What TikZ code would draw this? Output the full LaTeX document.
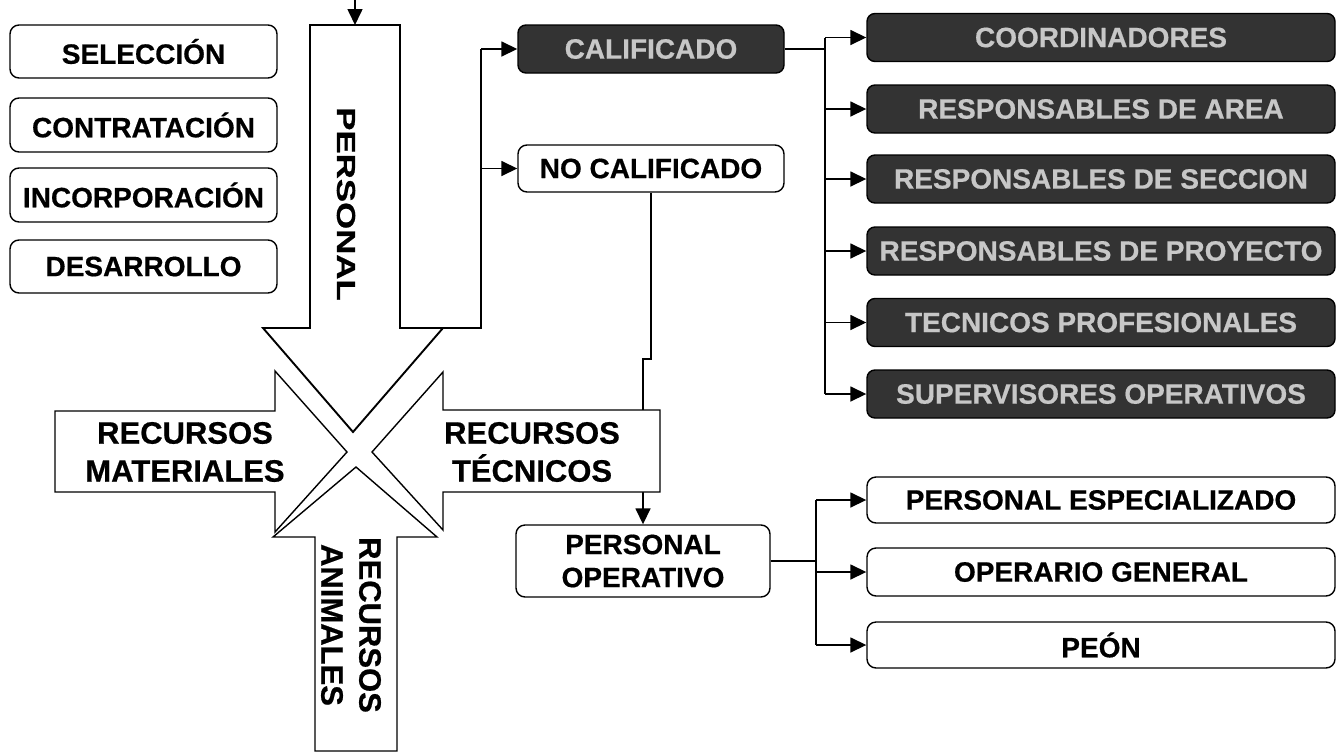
\documentclass[tikz,border=0pt]{standalone}
\usepackage{fontspec}
\setmainfont{Liberation Sans}[BoldFeatures={FakeBold=0.6}]
\usetikzlibrary{arrows.meta}
\newcommand\fsz[2]{\fontsize{#1}{#2}\selectfont\bfseries}
\begin{document}
\begin{tikzpicture}[x=1pt,y=-1pt,
  lbox/.style={draw, line width=1.4pt, rounded corners=9pt, fill=white, inner sep=0pt, font=\fsz{28}{30}, align=center},
  dbox/.style={draw=black, line width=1.4pt, rounded corners=8pt, fill=black!80, text=black!22, inner sep=0pt, font=\fsz{28}{30}, minimum width=468pt, minimum height=48pt},
  rbox/.style={lbox, minimum width=468pt},
  bigarrow/.style={draw, line width=1.4pt, fill=white, line join=miter},
  conn/.style={line width=1.6pt},
  arr/.style={conn, -{Triangle[length=16pt,width=15pt]}},
  bigtext/.style={inner sep=0pt, font=\fsz{31}{38}, align=center}]
\useasboundingbox (0,0) rectangle (1336,753);
\fill[white] (0,0) rectangle (1336,753);

% left column
\node[lbox, minimum width=267pt, minimum height=53pt] (sel) at (143.5,51.5) {SELECCIÓN};
\node[lbox, minimum width=267pt, minimum height=54pt] (con) at (143.5,125) {CONTRATACIÓN};
\node[lbox, minimum width=267pt, minimum height=54pt] (inc) at (143.5,195) {INCORPORACIÓN};
\node[lbox, minimum width=267pt, minimum height=53pt] (des) at (143.5,266.5) {DESARROLLO};

% middle
\node[dbox, minimum width=266pt] (cal) at (651,49) {CALIFICADO};
\node[lbox, minimum width=266pt, minimum height=47pt] (nocal) at (651,168.5) {NO CALIFICADO};
\node[lbox, minimum width=254pt, minimum height=72pt, font=\fsz{28}{33}] (pop) at (643,561) {PERSONAL\\OPERATIVO};

% right dark column
\node[dbox] (coord) at (1101,37.5) {COORDINADORES};
\node[dbox] (area) at (1101,109) {RESPONSABLES DE AREA};
\node[dbox] (secc) at (1101,179) {RESPONSABLES DE SECCION};
\node[dbox] (proy) at (1101,251) {RESPONSABLES DE PROYECTO};
\node[dbox] (tecp) at (1101,322.5) {TECNICOS PROFESIONALES};
\node[dbox] (sup) at (1101,394) {SUPERVISORES OPERATIVOS};

% right bottom column
\node[rbox, minimum height=46pt] (pe) at (1101,500) {PERSONAL ESPECIALIZADO};
\node[rbox, minimum height=48pt] (og) at (1101,572) {OPERARIO GENERAL};
\node[rbox, minimum height=46pt] (peon) at (1101,645) {PEÓN};

% connectors
\coordinate (src) at (355,0);
\coordinate (ptop) at (355,25);
\coordinate (pbase) at (443,328);
\coordinate (pj) at (481,328);
\draw[conn] (pbase) -- (pj) -- (pj |- cal.west);
\draw[arr] (pj |- cal.west) -- (cal.west);
\draw[arr] (pj |- nocal.west) -- (nocal.west);

\coordinate (cj) at (825,49);
\draw[conn] (cal.east) -- (cj);
\draw[conn] (cj |- coord.west) -- (cj |- sup.west);
\foreach \n in {coord,area,secc,proy,tecp,sup}
  \draw[arr] (cj |- \n.west) -- (\n.west);

\draw[arr] (nocal.south) -- ++(0,166) -| (pop.north);

\coordinate (oj) at (816,561);
\draw[conn] (pop.east) -- (oj);
\draw[conn] (oj |- pe.west) -- (oj |- peon.west);
\foreach \n in {pe,og,peon}
  \draw[arr] (oj |- \n.west) -- (\n.west);

% big arrows
\draw[bigarrow, line width=1.9pt] (310,25) -- (400,25) -- (400,328) -- (443,328) -- (353,432) -- (263,328) -- (310,328) -- cycle;
\draw[arr] (src) -- (ptop);
\draw[bigarrow] (55,411) -- (275,411) -- (275,371) -- (347,452) -- (275,532) -- (275,492) -- (55,492) -- cycle;
\draw[bigarrow] (660,410) -- (443,410) -- (443,372) -- (372,452) -- (443,530) -- (443,492) -- (660,492) -- cycle;
\draw[bigarrow] (315,751) -- (315,537) -- (273,537) -- (356,467) -- (437,537) -- (397,537) -- (397,751) -- cycle;

\node[bigtext, rotate=-90, font=\fsz{26}{30}] (tper) at (346,204) {\scalebox{1.34}[1]{PERSONAL}};
\node[bigtext] (tmat) at (185,452) {RECURSOS\\MATERIALES};
\node[bigtext] (ttec) at (532,452) {RECURSOS\\TÉCNICOS};
\node[bigtext, rotate=-90] (tani) at (351,625) {RECURSOS\\ANIMALES};
\end{tikzpicture}
\end{document}
